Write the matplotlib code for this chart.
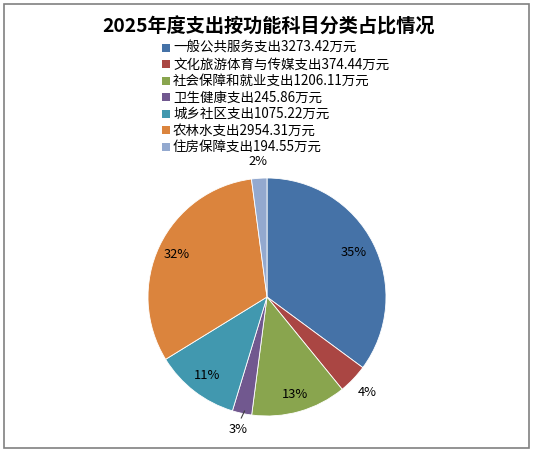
import numpy as np
import matplotlib
matplotlib.use('Agg')
import matplotlib.pyplot as plt
from matplotlib.patches import Rectangle

plt.rcParams['font.family'] = ['Noto Sans CJK SC', 'DejaVu Sans']

# 数据 (万元)
categories = ['一般公共服务支出', '文化旅游体育与传媒支出', '社会保障和就业支出',
              '卫生健康支出', '城乡社区支出', '农林水支出', '住房保障支出']
values = [3273.42, 374.44, 1206.11, 245.86, 1075.22, 2954.31, 194.55]
pct_labels = ['35%', '4%', '13%', '3%', '11%', '32%', '2%']

colors = ['#4572A7', '#AA4643', '#89A54E', '#71588F', '#4198AF', '#DB843D', '#93A9CF']
# 标签离圆心的距离 (半径倍数): 小扇区放在外面
label_dist = [0.82, 1.16, 0.85, 1.14, 0.83, 0.84, 1.14]

W, H = 536, 454
fig = plt.figure(figsize=(W / 100, H / 100), dpi=100)

# 外框
fig.patches.append(Rectangle((4 / W, 1 - 448 / H), 525 / W, 444 / H,
                             transform=fig.transFigure, fill=False,
                             edgecolor='#808080', linewidth=1.2))

fig.text(268 / W, 1 - 27 / H, '2025年度支出按功能科目分类占比情况',
         ha='center', va='center', fontsize=13.8, fontweight='bold')

# 图例 (手工排版)
for i, (cat, v) in enumerate(zip(categories, values)):
    yc = 1 - (48 + i * 16.5) / H
    fig.patches.append(Rectangle((162 / W, yc - 4 / H), 8 / W, 8 / H,
                                 transform=fig.transFigure,
                                 facecolor=colors[i], edgecolor='none'))
    fig.text(173 / W, yc, f'{cat}{v:.2f}万元', ha='left', va='center',
             fontsize=9.7)

# 饼图: 圆心 (267, 297), 半径 119 px
cx, cy, r = 267, 297, 119
ax = fig.add_axes([(cx - r) / W, 1 - (cy + r) / H, 2 * r / W, 2 * r / H])
wedges, _ = ax.pie(values, colors=colors, startangle=90, counterclock=False,
                   radius=1.0, wedgeprops=dict(edgecolor='white', linewidth=0.6))
ax.set_xlim(-1, 1)
ax.set_ylim(-1, 1)
ax.set_aspect('equal')
ax.axis('off')

for w, lab, d in zip(wedges, pct_labels, label_dist):
    ang = np.deg2rad((w.theta1 + w.theta2) / 2)
    x, y = d * np.cos(ang), d * np.sin(ang)
    ax.text(x, y, lab, ha='center', va='center', fontsize=9.3, clip_on=False)

# 卫生健康 的引导线
w = wedges[3]
ang = np.deg2rad((w.theta1 + w.theta2) / 2)
ax.plot([0.99 * np.cos(ang) + 0.02, 1.05 * np.cos(ang) + 0.005],
        [0.98 * np.sin(ang), 1.04 * np.sin(ang)],
        color='#404040', lw=0.8, clip_on=False)

fig.savefig('out.png', dpi=100)
